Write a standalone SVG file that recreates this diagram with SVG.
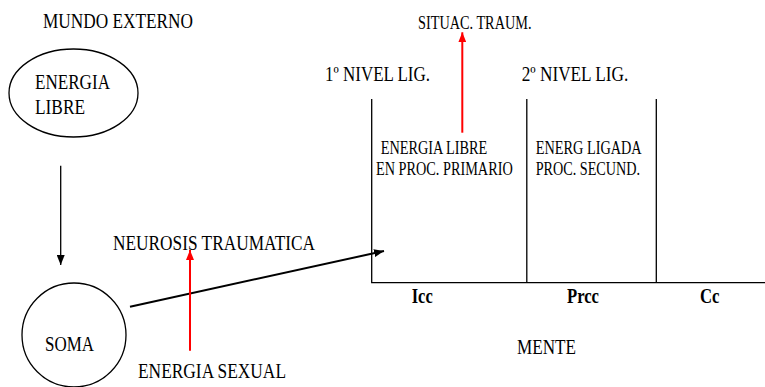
<svg xmlns="http://www.w3.org/2000/svg" width="765" height="387" viewBox="0 0 765 387">
<defs>
<style>
text{font-family:"Liberation Serif","Times New Roman",serif;fill:#000}
.lg{font-size:21px}
.md{font-size:18px}
.sm{font-size:18px}
.b{font-weight:bold}
.shape{fill:none;stroke:#000;stroke-width:1.3}
.con{fill:none;stroke:#000;stroke-width:2}
.red{fill:none;stroke:#ff0000;stroke-width:2}
</style>
<marker id="ab" viewBox="0 0 10 8" refX="10" refY="4" markerWidth="10" markerHeight="8" markerUnits="userSpaceOnUse" orient="auto"><path d="M0,0L10,4L0,8z" fill="#000"/></marker>
<marker id="ar" viewBox="0 0 10 8" refX="10" refY="4" markerWidth="10" markerHeight="8" markerUnits="userSpaceOnUse" orient="auto"><path d="M0,0L10,4L0,8z" fill="#ff0000"/></marker>
</defs>
<text class="lg" x="43" y="28" textLength="150" lengthAdjust="spacingAndGlyphs">MUNDO EXTERNO</text>
<g id="energia-libre">
<ellipse class="shape" cx="73.5" cy="93" rx="64.5" ry="44"/>
<text class="lg" x="35" y="89" textLength="75" lengthAdjust="spacingAndGlyphs">ENERGIA</text>
<text class="lg" x="35" y="114" textLength="50" lengthAdjust="spacingAndGlyphs">LIBRE</text>
</g>
<g id="soma">
<circle class="shape" cx="74" cy="335" r="52"/>
<text class="lg" x="45" y="351" textLength="49" lengthAdjust="spacingAndGlyphs">SOMA</text>
</g>
<g id="neurosis">
<text class="lg" x="113" y="250" textLength="202" lengthAdjust="spacingAndGlyphs">NEUROSIS TRAUMATICA</text>
</g>
<g id="energia-sexual">
<text class="lg" x="138" y="378" textLength="148" lengthAdjust="spacingAndGlyphs">ENERGIA SEXUAL</text>
</g>
<g id="situac">
<text class="sm" x="418" y="29" textLength="113.5" lengthAdjust="spacingAndGlyphs">SITUAC. TRAUM.</text>
</g>
<g id="mente">
<path class="shape" d="M371.7,99V282.7H765M526.8,99V282.7M656.3,99V282.7"/>
<text class="lg" x="325" y="81" textLength="105" lengthAdjust="spacingAndGlyphs">1º NIVEL LIG.</text>
<text class="lg" x="521.7" y="81" textLength="106.6" lengthAdjust="spacingAndGlyphs">2º NIVEL LIG.</text>
<text class="md" x="380.7" y="154.3" textLength="106.6" lengthAdjust="spacingAndGlyphs">ENERGIA LIBRE</text>
<text class="md" x="376" y="175" textLength="136.7" lengthAdjust="spacingAndGlyphs">EN PROC. PRIMARIO</text>
<text class="md" x="535.7" y="154.3" textLength="106" lengthAdjust="spacingAndGlyphs">ENERG LIGADA</text>
<text class="md" x="535.7" y="175" textLength="104.3" lengthAdjust="spacingAndGlyphs">PROC. SECUND.</text>
<text class="lg b" x="411.7" y="302.7" textLength="21" lengthAdjust="spacingAndGlyphs">Icc</text>
<text class="lg b" x="567" y="302.7" textLength="32" lengthAdjust="spacingAndGlyphs">Prcc</text>
<text class="lg b" x="700" y="302.7" textLength="19.5" lengthAdjust="spacingAndGlyphs">Cc</text>
<text class="lg" x="517" y="354" textLength="59" lengthAdjust="spacingAndGlyphs">MENTE</text>
</g>
<g id="connectors">
<path class="shape" d="M60.7,165.7V265" marker-end="url(#ab)"/>
<path class="con" d="M130,306.7L384,251" marker-end="url(#ab)"/>
<path class="red" d="M190,350.7V250" marker-end="url(#ar)"/>
<path class="red" d="M462.3,132.7V32.3" marker-end="url(#ar)"/>
</g>
</svg>
